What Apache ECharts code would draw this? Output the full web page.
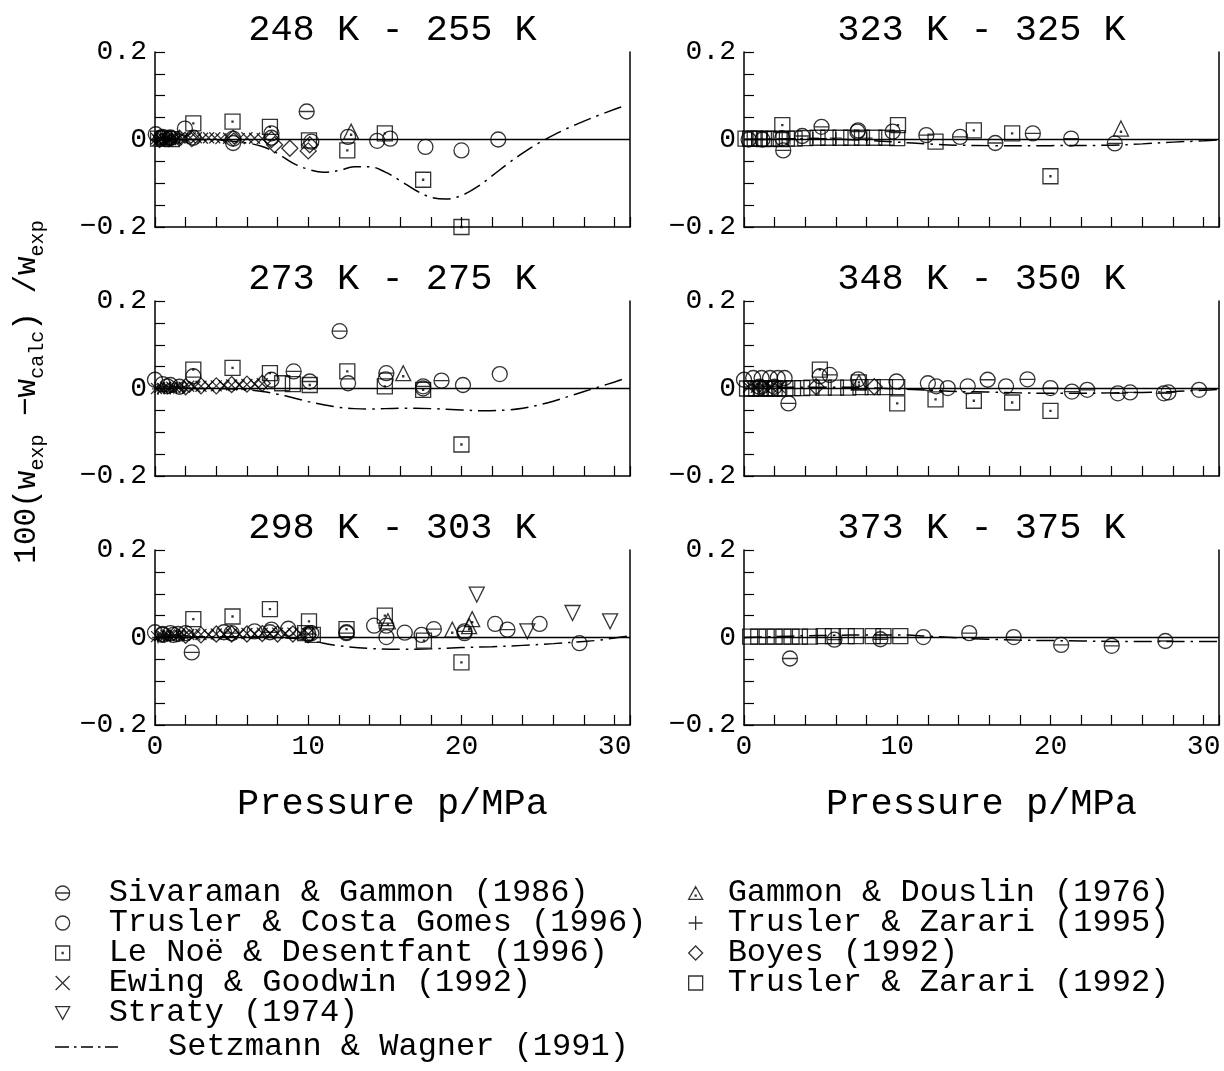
<!DOCTYPE html>
<html><head><meta charset="utf-8">
<script src="https://cdn.jsdelivr.net/npm/echarts@6/dist/echarts.min.js"></script>
<style>html,body{margin:0;padding:0;background:#fff}#c{width:1224px;height:1071px}</style>
</head><body><div id="c"></div>
<script>
// ---------- labels ----------
const panelTitles = ['248 K - 255 K','323 K - 325 K','273 K - 275 K','348 K - 350 K','298 K - 303 K','373 K - 375 K'];
const xTickLabels = [0,10,20,30];
const yTickLabels = [[0.2,'0.2'],[0,'0'],[-0.2,'\u22120.2']];
const xName = 'Pressure p/MPa';
const NAMES = {
  SG:'Sivaraman & Gammon (1986)', TCG:'Trusler & Costa Gomes (1996)', LND:'Le No\u00eb & Desentfant (1996)',
  EG:'Ewing & Goodwin (1992)', ST:'Straty (1974)', GD:'Gammon & Douslin (1976)',
  TZ95:'Trusler & Zarari (1995)', BO:'Boyes (1992)', TZ92:'Trusler & Zarari (1992)', SW:'Setzmann & Wagner (1991)'
};

// ---------- data: [p/MPa, deviation] ----------
// 248 K - 255 K
const SG_248 = [[9.9,0.064],[0.4,0.004],[1.0,0.003]];
const TCG_248 = [[0.05,0.012],[0.5,0.006],[1.0,0.005],[1.95,0.025],[2.5,0.004],[5.1,0.002],[5.1,-0.008],[7.6,0.014],[7.6,0.004],[10.2,-0.005],[12.6,0.006],[14.5,-0.003],[15.35,0.002],[17.65,-0.017],[20.0,-0.025],[22.4,0.0]];
const LND_248 = [[2.5,0.037],[5.06,0.041],[7.5,0.029],[10.05,-0.002],[12.55,-0.025],[15.0,0.014],[17.5,-0.092],[20.0,-0.2]];
const EG_248 = [[0.1,0.002],[0.2,-0.002],[0.3,0.003],[0.4,0.0],[0.5,0.004],[0.6,-0.001],[0.7,0.002],[0.8,0.003],[0.9,0.0],[1.0,0.002],[1.2,0.003],[1.4,0.0],[1.6,0.004],[1.8,0.002],[2.0,0.003],[2.3,0.004],[2.7,0.004],[3.1,0.003],[3.5,0.004],[3.9,0.004],[4.3,0.002],[4.8,0.003],[5.5,0.002],[6.0,0.004],[6.5,0.003],[7.0,0.002]];
const ST_248 = [];
const GD_248 = [[12.8,0.018]];
const TZ95_248 = [[0.15,0.0],[0.35,0.001],[0.55,-0.001],[0.75,0.001],[0.95,0.0],[1.15,0.001],[1.35,0.0]];
const BO_248 = [[0.3,0.0],[0.9,0.002],[1.6,0.003],[2.4,0.002],[5.1,0.003],[7.6,0.0],[7.8,-0.012],[8.8,-0.02],[10.0,-0.026],[10.1,-0.012]];
const TZ92_248 = [[0.2,0.002],[0.6,0.002],[1.1,0.001]];
const SW_248 = [[0,0],[2,0],[4,-0.001],[6,-0.008],[7,-0.016],[8,-0.032],[9,-0.054],[10,-0.068],[11,-0.075],[12,-0.071],[13,-0.062],[14,-0.062],[15,-0.074],[16,-0.094],[17,-0.116],[18,-0.132],[19,-0.136],[20,-0.128],[21,-0.109],[22,-0.083],[23,-0.056],[24,-0.031],[25,-0.009],[26,0.01],[27,0.027],[28,0.042],[29,0.056],[30,0.069],[30.7,0.078]];
// 323 K - 325 K
const SG_323 = [[2.56,-0.025],[5.06,0.029],[9.7,0.018],[11.9,0.01],[14.1,0.006],[16.4,-0.008],[18.85,0.014],[21.35,0.002],[24.2,-0.009],[1.2,0.0],[3.8,0.008],[7.4,0.018]];
const TCG_323 = [[7.45,0.021],[0.3,0.0],[2.5,0.003]];
const LND_323 = [[2.5,0.033],[10.05,0.033],[15.0,0.021],[17.5,0.014],[20.0,-0.084]];
const EG_323 = [];
const ST_323 = [];
const GD_323 = [[24.6,0.025]];
const TZ95_323 = [[0.5,0.001],[1.5,0.001],[3.0,0.002],[4.5,0.003],[6.0,0.003],[8.0,0.003]];
const BO_323 = [];
const TZ92_323 = [[0.1,0.002],[0.4,0.002],[0.7,0.002],[1.0,0.002],[1.3,0.001],[1.6,0.002],[2.0,0.002],[2.4,0.001],[2.8,0.002],[3.3,0.002],[4.0,0.003],[4.8,0.004],[5.5,0.004],[6.3,0.004],[7.0,0.004],[7.7,0.004],[8.5,0.004],[9.3,0.004],[10.0,0.003],[12.5,-0.005]];
const SW_323 = [[0,0],[2,0.001],[4,0.002],[6,0.001],[8,-0.002],[10,-0.006],[12,-0.01],[14,-0.013],[16,-0.014],[20,-0.014],[24,-0.013],[26,-0.01],[28,-0.006],[30,-0.003],[31,-0.001]];
// 273 K - 275 K
const SG_273 = [[12.05,0.131],[9.05,0.039],[15.1,0.035],[18.7,0.018],[10.1,0.016],[17.5,0.005],[0.8,0.005],[1.6,0.004]];
const TCG_273 = [[0.0,0.02],[0.5,0.01],[1.0,0.008],[2.5,0.028],[7.6,0.02],[12.6,0.012],[15.05,0.021],[17.5,0.0],[20.1,0.008],[22.5,0.033]];
const LND_273 = [[2.5,0.043],[5.06,0.047],[7.5,0.035],[10.1,0.008],[12.55,0.039],[15.0,0.005],[17.5,-0.003],[20.0,-0.128]];
const EG_273 = [[0.1,0.0],[0.3,0.002],[0.5,0.0],[0.7,0.003],[0.9,0.001],[1.1,0.003],[1.3,0.002],[1.6,0.004],[1.9,0.003],[2.2,0.005],[2.6,0.004],[3.0,0.005],[3.5,0.006],[4.0,0.006],[4.5,0.007],[5.0,0.008],[5.5,0.008],[6.0,0.009],[6.5,0.01],[7.0,0.011]];
const ST_273 = [];
const GD_273 = [[16.2,0.035]];
const TZ95_273 = [[0.2,-0.001],[0.6,0.0],[1.0,0.0],[1.4,0.001],[1.8,0.001]];
const BO_273 = [[2.0,0.004],[3.0,0.006],[4.0,0.006],[5.0,0.009],[6.0,0.01],[7.0,0.012]];
const TZ92_273 = [[8.3,0.012],[9.0,0.01]];
const SW_273 = [[0,0],[2,0],[4,0],[6,-0.003],[7,-0.007],[8,-0.013],[9,-0.021],[10,-0.03],[11,-0.037],[12,-0.043],[13,-0.046],[14,-0.047],[16,-0.045],[18,-0.046],[20,-0.049],[21.5,-0.051],[23,-0.049],[24,-0.045],[25,-0.038],[26,-0.029],[27,-0.018],[28,-0.007],[29,0.004],[30,0.015],[30.7,0.023]];
// 348 K - 350 K
const SG_348 = [[2.9,-0.034],[5.6,0.031],[15.9,0.02],[18.5,0.021],[20.0,0.001],[21.4,-0.007],[22.4,-0.003],[24.4,-0.011],[25.2,-0.009],[27.4,-0.011],[27.7,-0.009],[29.7,-0.003],[1.0,0.004],[2.0,0.004]];
const TCG_348 = [[0.0,0.02],[0.6,0.024],[1.15,0.024],[1.7,0.024],[2.2,0.024],[2.65,0.024],[4.95,0.028],[7.45,0.021],[9.95,0.016],[12.0,0.012],[12.55,0.005],[13.3,0.001],[14.6,0.005],[17.1,0.005]];
const LND_348 = [[4.95,0.043],[7.5,0.014],[10.0,-0.034],[12.5,-0.025],[15.0,-0.028],[17.5,-0.032],[20.0,-0.051]];
const EG_348 = [[0.3,0.003],[0.8,0.003],[1.3,0.003],[1.8,0.003],[2.3,0.003]];
const ST_348 = [];
const GD_348 = [[7.5,0.014]];
const TZ95_348 = [];
const BO_348 = [[4.7,0.004],[8.5,0.004],[1.2,0.002]];
const TZ92_348 = [[0.2,0.0],[0.5,0.0],[0.8,0.0],[1.1,0.0],[1.4,0.0],[1.7,0.0],[2.0,0.0],[2.3,0.0],[2.7,0.0],[3.2,0.001],[3.8,0.001],[4.4,0.002],[5.2,0.002],[6.0,0.002],[6.8,0.002],[7.6,0.003],[8.4,0.003],[9.2,0.003],[10.0,0.003]];
const SW_348 = [[0,0],[2,0.002],[4,0.003],[6,0.003],[8,0.002],[10,-0.001],[12,-0.004],[14,-0.007],[16,-0.008],[18,-0.01],[20,-0.011],[22,-0.011],[24,-0.01],[26,-0.009],[28,-0.007],[30,-0.004],[31,-0.002]];
// 298 K - 303 K
const SG_298 = [[2.4,-0.034],[5.0,0.01],[7.5,0.012],[10.0,0.008],[12.5,0.01],[15.1,0.027],[18.2,0.019],[20.2,0.014],[23.0,0.018],[0.5,0.006],[1.2,0.006]];
const TCG_298 = [[0.0,0.012],[0.5,0.008],[1.0,0.01],[1.5,0.008],[2.0,0.01],[4.5,0.012],[6.5,0.014],[7.6,0.018],[8.7,0.02],[10.2,0.01],[12.5,0.012],[14.3,0.027],[15.1,0.001],[16.3,0.011],[17.4,0.006],[20.2,0.01],[22.2,0.031],[25.1,0.031],[27.7,-0.013]];
const LND_298 = [[2.5,0.042],[5.06,0.048],[7.5,0.065],[10.05,0.037],[12.5,0.019],[15.0,0.05],[17.55,-0.007],[20.0,-0.057]];
const EG_298 = [[0.1,0.002],[0.3,0.004],[0.5,0.003],[0.7,0.005],[0.9,0.004],[1.1,0.006],[1.3,0.005],[1.6,0.006],[1.9,0.005],[2.2,0.007],[2.6,0.006],[3.0,0.007],[3.5,0.006],[4.0,0.008],[4.5,0.007],[5.0,0.008],[5.5,0.008],[6.0,0.009],[6.5,0.008],[7.0,0.01],[7.5,0.009],[8.0,0.01],[8.5,0.01],[9.0,0.01],[9.5,0.009],[10.0,0.008]];
const ST_298 = [[21.0,0.098],[24.3,0.014],[27.25,0.056],[29.7,0.037]];
const GD_298 = [[15.2,0.037],[19.4,0.018],[20.5,0.026],[20.7,0.042]];
const TZ95_298 = [[0.2,0.0],[0.6,0.002],[1.0,0.003],[1.4,0.004],[1.8,0.004]];
const BO_298 = [[2.0,0.005],[3.0,0.006],[4.0,0.008],[5.0,0.008],[6.0,0.008],[7.0,0.009],[8.0,0.008],[9.0,0.008],[10.0,0.006]];
const TZ92_298 = [[9.8,0.01],[10.3,0.006]];
const SW_298 = [[0,0],[2,0.001],[4,0.002],[6,0.002],[8,0.0],[9,-0.002],[10,-0.006],[11,-0.013],[12,-0.019],[14,-0.025],[16,-0.027],[18,-0.026],[20,-0.023],[22,-0.021],[24,-0.018],[26,-0.014],[28,-0.009],[29,-0.006],[30,-0.001],[30.8,0.003]];
// 373 K - 375 K
const SG_373 = [[3.0,-0.048],[5.9,-0.005],[8.9,-0.004],[14.7,0.01],[17.6,0.001],[20.7,-0.017],[24.0,-0.019],[27.5,-0.008]];
const TCG_373 = [[11.7,0.001]];
const LND_373 = [];
const EG_373 = [];
const ST_373 = [];
const GD_373 = [];
const TZ95_373 = [];
const BO_373 = [];
const TZ92_373 = [[0.4,0.002],[0.93,0.002],[1.48,0.002],[2.0,0.002],[2.57,0.002],[3.1,0.002],[3.65,0.002],[4.3,0.002],[5.2,0.003],[5.8,0.003],[6.7,0.003],[7.3,0.003],[8.4,0.003],[9.1,0.003],[10.2,0.003]];
const SW_373 = [[0,0],[2,0.002],[4,0.004],[6,0.005],[8,0.006],[10,0.006],[12,0.003],[14,-0.001],[16,-0.004],[18,-0.006],[20,-0.007],[22,-0.008],[24,-0.009],[31,-0.009]];

// panel order: 0 TL(248) 1 TR(323) 2 ML(273) 3 MR(348) 4 BL(298) 5 BR(373)
const DATA = {
  SG:[SG_248,SG_323,SG_273,SG_348,SG_298,SG_373],
  TCG:[TCG_248,TCG_323,TCG_273,TCG_348,TCG_298,TCG_373],
  LND:[LND_248,LND_323,LND_273,LND_348,LND_298,LND_373],
  EG:[EG_248,EG_323,EG_273,EG_348,EG_298,EG_373],
  ST:[ST_248,ST_323,ST_273,ST_348,ST_298,ST_373],
  GD:[GD_248,GD_323,GD_273,GD_348,GD_298,GD_373],
  TZ95:[TZ95_248,TZ95_323,TZ95_273,TZ95_348,TZ95_298,TZ95_373],
  BO:[BO_248,BO_323,BO_273,BO_348,BO_298,BO_373],
  TZ92:[TZ92_248,TZ92_323,TZ92_273,TZ92_348,TZ92_298,TZ92_373]
};
const SW = [SW_248,SW_323,SW_273,SW_348,SW_298,SW_373];

// ---------- styles ----------
const FONT = '"Liberation Mono", "Courier New", monospace';
const CIRC = 'M-10,0 A10,10 0 1,1 10,0 A10,10 0 1,1 -10,0 Z';
const SYM = {
  SG:  ['path://' + CIRC + ' M-10,0 L10,0', 15],
  TCG: ['path://' + CIRC, 15],
  LND: ['path://M-10,-10 L10,-10 L10,10 L-10,10 Z M-0.7,-0.7 L0.7,-0.7 L0.7,0.7 L-0.7,0.7 Z', 15],
  EG:  ['path://M-10,-10 L10,10 M-10,10 L10,-10', 11],
  ST:  ['path://M-10,-8 L10,-8 L0,10 Z', 15],
  GD:  ['path://M0,-10 L10,8 L-10,8 Z M-0.7,2 L0.7,2 L0.7,3.4 L-0.7,3.4 Z', 15],
  TZ95:['path://M-10,0 L10,0 M0,-10 L0,10', 12],
  BO:  ['path://M0,-10 L10,0 L0,10 L-10,0 Z', 16],
  TZ92:['path://M-10,-10 L10,-10 L10,10 L-10,10 Z', 15]
};
// dash-dot legend sample (filled bars)
const SW_ICON = 'path://M0,0 L14,0 L14,1.6 L0,1.6 Z M19,0 L21.5,0 L21.5,1.6 L19,1.6 Z M26,0 L38,0 L38,1.6 L26,1.6 Z M43,0 L45.5,0 L45.5,1.6 L43,1.6 Z M50,0 L63,0 L63,1.6 L50,1.6 Z';

const grids = [], xAxes = [], yAxes = [], series = [];
const lefts = [155, 744], tops = [52, 301, 550];
for (let i = 0; i < 6; i++) {
  const col = i % 2, row = Math.floor(i / 2);
  grids.push({left: lefts[col], top: tops[row], width: 475, height: 175, containLabel: false});
  xAxes.push({
    gridIndex: i, type: 'value', min: 0, max: 31, interval: 2,
    axisLine: {show: true, onZero: false, lineStyle: {color: '#000', width: 1.5}},
    axisTick: {show: true, inside: true, length: 10, lineStyle: {color: '#000', width: 1.2}},
    axisLabel: {show: row === 2, margin: 8, color: '#000', fontSize: 28, fontFamily: FONT,
      formatter: v => xTickLabels.indexOf(v) >= 0 ? String(v) : ''},
    splitLine: {show: false},
    name: row === 2 ? xName : '', nameLocation: 'middle', nameGap: 61,
    nameTextStyle: {fontSize: 37, color: '#000', fontFamily: FONT}
  });
  yAxes.push({
    gridIndex: i, type: 'value', min: -0.2, max: 0.2, interval: 0.05,
    axisLine: {show: true, onZero: false, lineStyle: {color: '#000', width: 1.5}},
    axisTick: {show: true, inside: true, length: 10, lineStyle: {color: '#000', width: 1.2}},
    axisLabel: {show: true, margin: 8, color: '#000', fontSize: 28, fontFamily: FONT,
      formatter: v => { for (const [t, s] of yTickLabels) if (Math.abs(v - t) < 1e-9) return s; return ''; }},
    splitLine: {show: false}
  });
  yAxes.push({
    gridIndex: i, type: 'value', position: 'right', min: -0.2, max: 0.2, interval: 0.05,
    axisLine: {show: true, onZero: false, lineStyle: {color: '#000', width: 1.5}},
    axisTick: {show: false}, axisLabel: {show: false}, splitLine: {show: false}
  });
  series.push({
    type: 'line', name: NAMES.SW, xAxisIndex: i, yAxisIndex: 2 * i, data: SW[i],
    smooth: 0.35, symbol: 'none', showSymbol: false, z: 1, silent: true,
    lineStyle: {color: '#000', width: 1.5, type: [18, 6, 2.5, 6]},
    itemStyle: {color: '#000'},
    markLine: {silent: true, symbol: ['none', 'none'], label: {show: false},
      lineStyle: {color: '#000', type: 'solid', width: 1.3}, data: [{yAxis: 0}], animation: false}
  });
}
Object.keys(DATA).forEach(k => {
  DATA[k].forEach((arr, i) => {
    series.push({
      type: 'scatter', name: NAMES[k], xAxisIndex: i, yAxisIndex: 2 * i, data: arr,
      symbol: SYM[k][0], symbolSize: SYM[k][1], clip: false, silent: true, z: 3,
      itemStyle: {color: 'rgba(0,0,0,0)', borderColor: '#000', borderWidth: 1.3},
      emphasis: {disabled: true}
    });
  });
});

const legendText = p => ({fontFamily: FONT, fontSize: 32, color: '#000', padding: [0, 0, 0, p]});
const graphic = [];
const centers = [392.5, 981.5], titleY = [30, 279, 528];
panelTitles.forEach((t, i) => {
  graphic.push({type: 'text', x: centers[i % 2], y: titleY[Math.floor(i / 2)],
    style: {text: t, fontSize: 37, fontFamily: FONT, fill: '#000', align: 'center', verticalAlign: 'middle'}});
});
graphic.push({type: 'text', x: 27, y: 392, rotation: Math.PI / 2,
  style: {text: '{m|100(w}{s|exp}{m| \u2212w}{s|calc}{m|) /w}{s|exp}', fill: '#000',
    align: 'center', verticalAlign: 'middle',
    rich: {m: {fontSize: 31, fontFamily: FONT, fill: '#000'},
           s: {fontSize: 20, fontFamily: FONT, fill: '#000', padding: [22, 0, 0, 0]}}}});

const option = {
  animation: false,
  textStyle: {fontFamily: FONT},
  grid: grids, xAxis: xAxes, yAxis: yAxes,
  legend: [
    {data: [NAMES.SG, NAMES.TCG, NAMES.LND, NAMES.EG, NAMES.ST], orient: 'vertical', left: 50, top: 872,
      itemWidth: 14, itemHeight: 14, itemGap: -2, selectedMode: false, textStyle: legendText(34),
      itemStyle: {borderWidth: 1.3}},
    {data: [NAMES.GD, NAMES.TZ95, NAMES.BO, NAMES.TZ92], orient: 'vertical', left: 683, top: 872,
      itemWidth: 14, itemHeight: 14, itemGap: -2, selectedMode: false, textStyle: legendText(20),
      itemStyle: {borderWidth: 1.3}},
    {data: [{name: NAMES.SW, icon: SW_ICON}], orient: 'vertical', left: 50, top: 1026, itemWidth: 63, itemHeight: 14,
      selectedMode: false, textStyle: legendText(45),
      itemStyle: {color: '#000', borderWidth: 0}}
  ],
  graphic: graphic,
  series: series
};
const chart = echarts.init(document.getElementById('c'), null, {renderer: 'canvas'});
chart.setOption(option);
</script>
</body></html>
